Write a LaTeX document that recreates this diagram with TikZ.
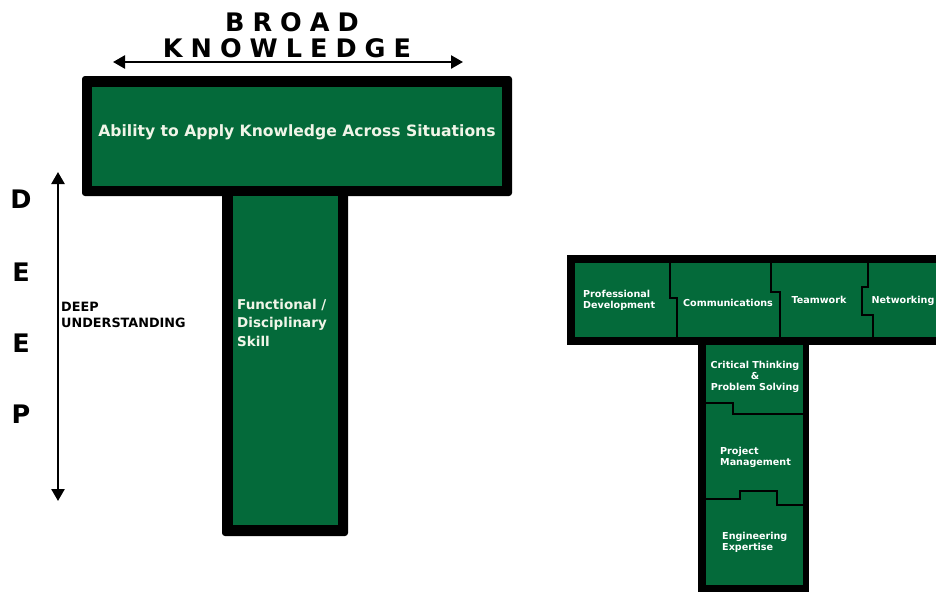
\documentclass[tikz,border=0pt]{standalone}
\usepackage{fontspec}
\setmainfont{DejaVu Sans}
\usetikzlibrary{arrows.meta}
\definecolor{tgreen}{RGB}{4,106,58}
\definecolor{ttext}{RGB}{240,245,232}
\newcommand\lsp{\hspace{8pt}}
\begin{document}
\begin{tikzpicture}[x=1pt,y=-1pt,
  big/.style={font=\bfseries\fontsize{25.5}{30}\selectfont, inner sep=0},
  lbl/.style={font=\bfseries\fontsize{13.5}{18.5}\selectfont, text=ttext, inner sep=0, align=left},
  sm/.style={font=\bfseries\fontsize{9.6}{11}\selectfont, text=white, inner sep=0},
  arr/.style={line width=2.5pt, {Triangle[length=12pt,width=13pt]}-{Triangle[length=12pt,width=13pt]}},
  div/.style={line width=2.5pt, line join=miter}]
\useasboundingbox (0,0) rectangle (936,592);

% ---------- left T ----------
\fill[black, rounded corners=3pt] (82,76) rectangle (512,196);
\fill[black, rounded corners=3pt] (222,186) rectangle (348,536);
\fill[tgreen] (92,87) rectangle (502,186);
\fill[tgreen] (233,196) rectangle (338,525);

\node[big] (broad) at (292,22) {B\lsp R\lsp O\lsp A\lsp D};
\node[big] (know) at (287,48) {K\lsp N\lsp O\lsp W\lsp L\lsp E\lsp D\lsp G\lsp E};
\coordinate (hl) at (113,62);
\coordinate (hr) at (463,62);
\draw[arr] (hl) -- (hr);

\node[lbl, font=\bfseries\fontsize{15.6}{18}\selectfont] (apply) at (297,132) {Ability to Apply Knowledge Across Situations};
\node[lbl, anchor=north west] (func) at (237,299) {Functional /\\Disciplinary\\Skill};

\node[big] (d1) at (21,199) {D};
\node[big] (d2) at (21,272) {E};
\node[big] (d3) at (21,343) {E};
\node[big] (d4) at (21,414) {P};
\coordinate (vt) at (58,172);
\coordinate (vb) at (58,501);
\draw[arr] (vt) -- (vb);
\node[font=\bfseries\fontsize{12.8}{15.5}\selectfont, inner sep=0, align=left, anchor=west] (deepu) at (61,315) {DEEP\\UNDERSTANDING};

% ---------- right T ----------
\fill[black] (567,255) rectangle (936,345);
\fill[black] (698,337) rectangle (809,592);
\fill[tgreen] (575,263) rectangle (936,337);
\fill[tgreen] (706,345) rectangle (803,585);

\draw[div] (670,263) -- (670,298) -- (677,298) -- (677,337);
\draw[div] (771,263) -- (771,292) -- (780,292) -- (780,337);
\draw[div] (868,263) -- (868,287) -- (862,287) -- (862,315) -- (873,315) -- (873,337);
\draw[div] (706,403) -- (733,403) -- (733,414) -- (803,414);
\draw[div] (706,499) -- (740,499) -- (740,491) -- (777,491) -- (777,505) -- (803,505);

\node[sm, align=left, anchor=west] (pd) at (583,300) {Professional\\Development};
\node[sm] (comm) at (728,303) {Communications};
\node[sm] (team) at (819,300) {Teamwork};
\node[sm] (net) at (903,301) {Networking};
\node[sm, align=center] (crit) at (755,377) {Critical Thinking\\\&\\Problem Solving};
\node[sm, align=left, anchor=west] (pm) at (720,457) {Project\\Management};
\node[sm, align=left, anchor=west] (eng) at (722,542) {Engineering\\Expertise};
\end{tikzpicture}
\end{document}
